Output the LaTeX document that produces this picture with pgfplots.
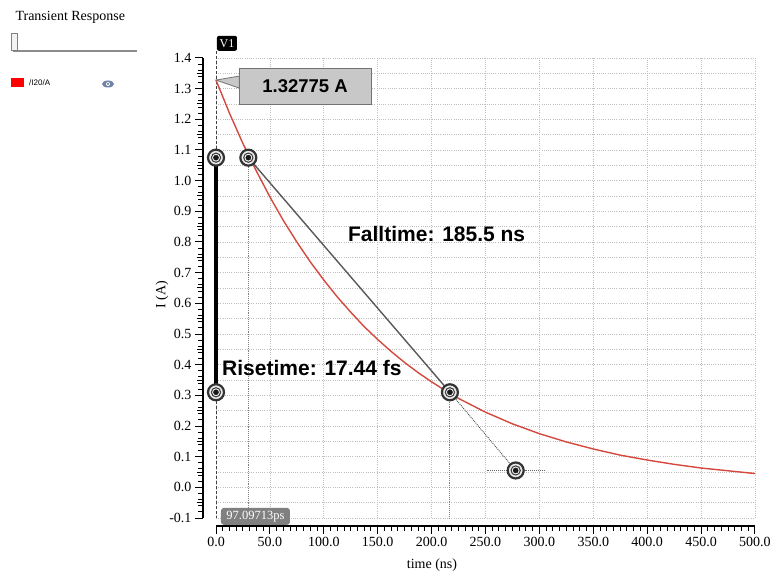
\documentclass[border=0pt]{standalone}
\usepackage{fontspec}
\setmainfont{Liberation Serif}
\newfontfamily\arialb{Liberation Sans}[BoldFont=* Bold]
\usepackage{pgfplots}
\pgfplotsset{compat=1.18}
\definecolor{curvered}{RGB}{212,72,62}
\definecolor{boxgray}{RGB}{200,200,200}
\definecolor{eyeblue}{RGB}{110,130,170}

% transient current (t in ns, I in A)
\pgfplotstableread{
t      I
0      1.328
12.5   1.220
25     1.121
37.5   1.031
50     0.947
62.5   0.870
75     0.800
87.5   0.735
100    0.676
112.5  0.621
125    0.571
137.5  0.524
150    0.482
162.5  0.443
175    0.407
187.5  0.374
200    0.344
212.5  0.316
225    0.290
250    0.245
275    0.207
300    0.175
325    0.148
350    0.125
375    0.105
400    0.089
425    0.075
450    0.063
475    0.054
500    0.045
}\currentdata

\begin{document}
\begin{tikzpicture}
\useasboundingbox (0,0) rectangle (772pt,574pt);

% left side panel
\node[anchor=west, font=\fontsize{14}{16}\selectfont] at (12pt,557pt) {Transient Response};
\draw[black!45, line width=1.5pt] (13pt,523pt) -- (137pt,523pt);
\draw[black!50, fill=black!5] (11pt,524pt) rectangle (17pt,541pt);
\fill[red] (11pt,487pt) rectangle (24pt,496pt);
\node[anchor=west, font=\arialb\fontsize{8}{9}\selectfont, inner sep=0pt] at (29pt,491pt) {/I20/A};
\fill[eyeblue] (108pt,490pt) ellipse (6pt and 3.5pt);
\fill[white] (108pt,490pt) circle (2pt);
\fill[eyeblue!60!black] (108pt,490pt) circle (1pt);

\begin{axis}[
    at={(216pt,56pt)}, anchor=south west,
    scale only axis, width=539pt, height=460pt,
    xmin=0, xmax=500, ymin=-0.1, ymax=1.4,
    axis lines*=left,
    axis x line shift=8pt, axis y line shift=13pt,
    clip=false,
    xtick={0,50,...,500}, ytick={-0.1,0,...,1.4},
    minor x tick num=7, minor y tick num=4,
    tick align=outside,
    major tick length=8pt, minor tick length=4.5pt,
    tick style={black, line width=1pt},
    axis line style={black, line width=1.3pt},
    grid=major,
    major grid style={dash pattern=on 0.8pt off 1.4pt, black!25, line width=0.8pt},
    extra y ticks={-0.05,0.05,...,1.35},
    extra y tick labels={},
    extra y tick style={grid=major, major tick length=6pt},
    tick label style={font=\fontsize{14}{16}\selectfont},
    /pgf/number format/.cd, fixed, fixed zerofill, precision=1, assume math mode=true,
    /pgfplots/.cd,
    xlabel={time (ns)}, ylabel={I (A)},
    label style={font=\fontsize{14}{16}\selectfont},
    xlabel style={at={(axis description cs:0.4007,-0.102)}, anchor=center},
    ylabel style={at={(axis description cs:-0.1002,0.485)}, anchor=center},
]
% V1 marker line
\addplot[densely dashed, black!75, line width=0.8pt] coordinates {(0,1.422) (0,-0.1)};

% helper lines of the measurement
\addplot[densely dotted, black!50, line width=0.9pt] coordinates {(30,1.075) (30,-0.1)};
\addplot[densely dotted, black!50, line width=0.9pt] coordinates {(217,0.31) (217,-0.1)};
\addplot[densely dotted, black!60, line width=0.9pt] coordinates {(251,0.055) (305,0.055)};
\addplot[densely dotted, black!70, line width=0.9pt] coordinates {(217,0.31) (278,0.055)};

% the signal
\addplot[curvered, line width=1.4pt] table[x=t, y=I] {\currentdata};

% fall and rise lines
\addplot[black!65, line width=1.4pt] coordinates {(30,1.075) (217,0.31)};
\addplot[black, line width=3.5pt] coordinates {(0,1.075) (0,0.31)};

% ring markers
\addplot[only marks, mark=*, mark size=8pt, mark options={fill=black!8, draw=black!80, line width=2.2pt}]
    coordinates {(0,1.075) (30,1.075) (0,0.31) (217,0.31) (278,0.055)};
\addplot[only marks, mark=*, mark size=4.6pt, mark options={fill=white, draw=black!75, line width=1.1pt}]
    coordinates {(0,1.075) (30,1.075) (0,0.31) (217,0.31) (278,0.055)};
\addplot[only marks, mark=*, mark size=2.6pt, mark options={fill=black!90, draw=black!90}]
    coordinates {(0,1.075) (30,1.075) (0,0.31) (217,0.31) (278,0.055)};

% annotations
\node[anchor=west, font=\arialb\bfseries\fontsize{21}{24}\selectfont, inner sep=0pt]
    at (axis cs:122.4,0.825) {Falltime: 185.5 ns};
\node[anchor=west, font=\arialb\bfseries\fontsize{21}{24}\selectfont, inner sep=0pt]
    at (axis cs:5.6,0.388) {Risetime: 17.44 fs};

\fill[boxgray, draw=black!55, line width=0.8pt]
    (axis cs:0,1.328) -- (axis cs:21.5,1.341) -- (axis cs:21.5,1.302) -- cycle;
\node[fill=boxgray, draw=black!55, line width=1pt, minimum width=132pt, minimum height=36pt,
      font=\arialb\bfseries\fontsize{18.5}{20}\selectfont]
    at (axis cs:82.6,1.3075) {1.32775 A};

\node[fill=black, text=white, rounded corners=2pt, inner sep=0pt, minimum width=20pt,
      minimum height=15pt, font=\fontsize{12}{13}\selectfont]
    at (axis cs:10.2,1.448) {V1};
\node[fill=black!50, text=white, rounded corners=3pt, inner sep=0pt, minimum width=69pt,
      minimum height=17pt, font=\fontsize{12.5}{13}\selectfont]
    at (axis cs:36.6,-0.0946) {97.09713ps};
\end{axis}
\end{tikzpicture}
\end{document}
